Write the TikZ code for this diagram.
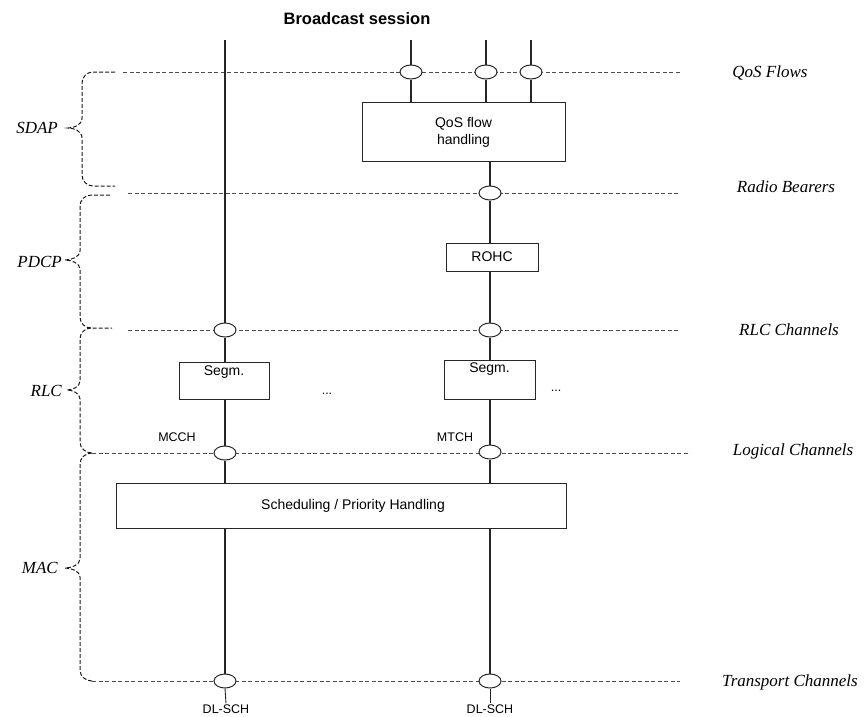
\documentclass[tikz,border=0pt]{standalone}
\usepackage{fontspec}
\setmainfont{Liberation Serif}
\setsansfont{Liberation Sans}
\usetikzlibrary{shapes.geometric}
\begin{document}
\begin{tikzpicture}[x=1pt,y=-1pt,
  hdash/.style={draw=black!70,line width=1pt,dash pattern=on 4pt off 2.5pt},
  bdash/.style={draw=black!90,line width=1pt,dash pattern=on 4pt off 2pt},
  vline/.style={draw=black!85,line width=1.5pt},
  box/.style={draw=black!85,line width=1pt,fill=white,inner sep=0pt,font=\sffamily\fontsize{14}{17}\selectfont,align=center},
  oval/.style={ellipse,draw=black!85,line width=1pt,fill=white,minimum width=22pt,minimum height=14pt,inner sep=0pt},
  sans/.style={font=\sffamily\fontsize{12.5}{15}\selectfont,inner sep=1pt},
  boxtext/.style={font=\sffamily\fontsize{14}{17}\selectfont,inner sep=1pt},
  layer/.style={font=\itshape\fontsize{17}{20}\selectfont,inner sep=0pt},
  proto/.style={font=\itshape\fontsize{17}{20}\selectfont,inner sep=0pt,anchor=east}]
\useasboundingbox (0,0) rectangle (866,716);

% title
\node[font=\sffamily\bfseries\fontsize{16.5}{19}\selectfont] (title) at (357,19) {Broadcast session};

% horizontal dashed lines
\coordinate (qa) at (123,72);  \coordinate (qb) at (680,72);
\coordinate (ra) at (128,193); \coordinate (rb) at (680,193);
\coordinate (la) at (128,330); \coordinate (lb) at (680,330);
\coordinate (ga) at (92,453);  \coordinate (gb) at (690,453);
\coordinate (ta) at (92,681);  \coordinate (tb) at (680,681);
\draw[hdash] (qa) -- (qb);
\draw[hdash] (ra) -- (rb);
\draw[hdash] (la) -- (lb);
\draw[hdash] (ga) -- (gb);
\draw[hdash] (ta) -- (tb);

% braces
\draw[bdash] (115,72) -- (93,72) to[out=180,in=90] (82,83) -- (82,118)
  .. controls (82,125) and (74,128) .. (68,128)
  .. controls (74,128) and (82,131) .. (82,138) -- (82,175)
  to[out=-90,in=180] (93,186) -- (115,186);
\draw[bdash] (110,195) -- (91,195) to[out=180,in=90] (80,206) -- (80,251)
  .. controls (80,257) and (71,260) .. (65,260)
  .. controls (71,260) and (80,263) .. (80,269) -- (80,317)
  to[out=-90,in=180] (91,328) -- (112,328);
\draw[bdash] (91,328) to[out=180,in=90] (80,339) -- (80,381)
  .. controls (80,387) and (72,390) .. (67,390)
  .. controls (72,390) and (80,393) .. (80,399) -- (80,442)
  to[out=-90,in=180] (92,453);
\draw[bdash] (92,453) to[out=180,in=90] (80,464) -- (80,559)
  .. controls (80,565) and (71,568) .. (65,568)
  .. controls (71,568) and (80,571) .. (80,577) -- (80,670)
  to[out=-90,in=180] (92,681);

% protocol labels
\node[proto] (sdap) at (58,128) {SDAP};
\node[proto] (pdcp) at (62,262) {PDCP};
\node[proto] (rlc)  at (62,391) {RLC};
\node[proto] (mac)  at (58,568) {MAC};

% layer labels
\node[layer] (lq) at (770,73)  {QoS Flows};
\node[layer] (lr) at (786,187) {Radio Bearers};
\node[layer] (ll) at (789,330) {RLC Channels};
\node[layer] (lg) at (793,451) {Logical Channels};
\node[layer] (lt) at (790,682) {Transport Channels};

% top coordinates
\coordinate (t1) at (225,40);
\coordinate (t2) at (411,40);
\coordinate (t3) at (486,40);
\coordinate (t4) at (531,40);

% boxes
\node[box,minimum width=203pt,minimum height=59pt] (qos) at (463.5,132) {QoS flow\\handling};
\node[box,minimum width=92pt,minimum height=28pt] (rohc) at (492,257) {ROHC};
\node[box,minimum width=90pt,minimum height=37pt,
  label={[boxtext,anchor=north,yshift=-3pt]north:Segm.}] (segl) at (224,380.5) {};
\node[box,minimum width=91pt,minimum height=39pt,
  label={[boxtext,anchor=north,yshift=-2pt]north:Segm.}] (segr) at (489.5,379.5) {};
\node[box,minimum width=450pt,minimum height=45pt,
  label={[boxtext,xshift=12pt]center:Scheduling / Priority Handling}] (sched) at (341,505.5) {};

% ovals
\node[oval] (q1) at (411,72) {};
\node[oval] (q2) at (486,72) {};
\node[oval] (q3) at (531,72) {};
\node[oval] (rb1) at (490,193) {};
\node[oval] (rl1) at (225,330) {};
\node[oval] (rl2) at (490,330) {};
\node[oval] (lg1) at (225,453) {};
\node[oval] (lg2) at (490,452) {};
\node[oval] (tr1) at (225,681) {};
\node[oval] (tr2) at (490,681) {};

% vertical lines
\draw[vline] (t2) -- (q1);
\draw[vline] (q1) -- (q1 |- qos.north);
\draw[vline] (t3) -- (q2);
\draw[vline] (q2) -- (q2 |- qos.north);
\draw[vline] (t4) -- (q3);
\draw[vline] (q3) -- (q3 |- qos.north);
\draw[vline] (rb1 |- qos.south) -- (rb1);
\draw[vline] (rb1) -- (rb1 |- rohc.north);
\draw[vline] (rb1 |- rohc.south) -- (rl2);
\draw[vline] (rl2) -- (rl2 |- segr.north);
\draw[vline] (lg2 |- segr.south) -- (lg2);
\draw[vline] (lg2) -- (lg2 |- sched.north);
\draw[vline] (tr2 |- sched.south) -- (tr2);

\draw[vline] (t1) -- (rl1);
\draw[vline] (rl1) -- (rl1 |- segl.north);
\draw[vline] (lg1 |- segl.south) -- (lg1);
\draw[vline] (lg1) -- (lg1 |- sched.north);
\draw[vline] (tr1 |- sched.south) -- (tr1);

% channel labels
\node[sans] (mcch) at (177,437) {MCCH};
\node[sans] (mtch) at (455,437) {MTCH};
\node[sans] (dl1) at (226,709) {DL-SCH};
\node[sans] (dl2) at (490,709) {DL-SCH};
\draw[draw=black!85,line width=0.9pt] (tr1.south) -- (dl1.north);
\draw[draw=black!85,line width=0.9pt] (tr2.south) -- (dl2.north);

% dots
\node[sans] (dots1) at (327,394) {...};
\node[sans] (dots2) at (556,391) {...};
\end{tikzpicture}
\end{document}
